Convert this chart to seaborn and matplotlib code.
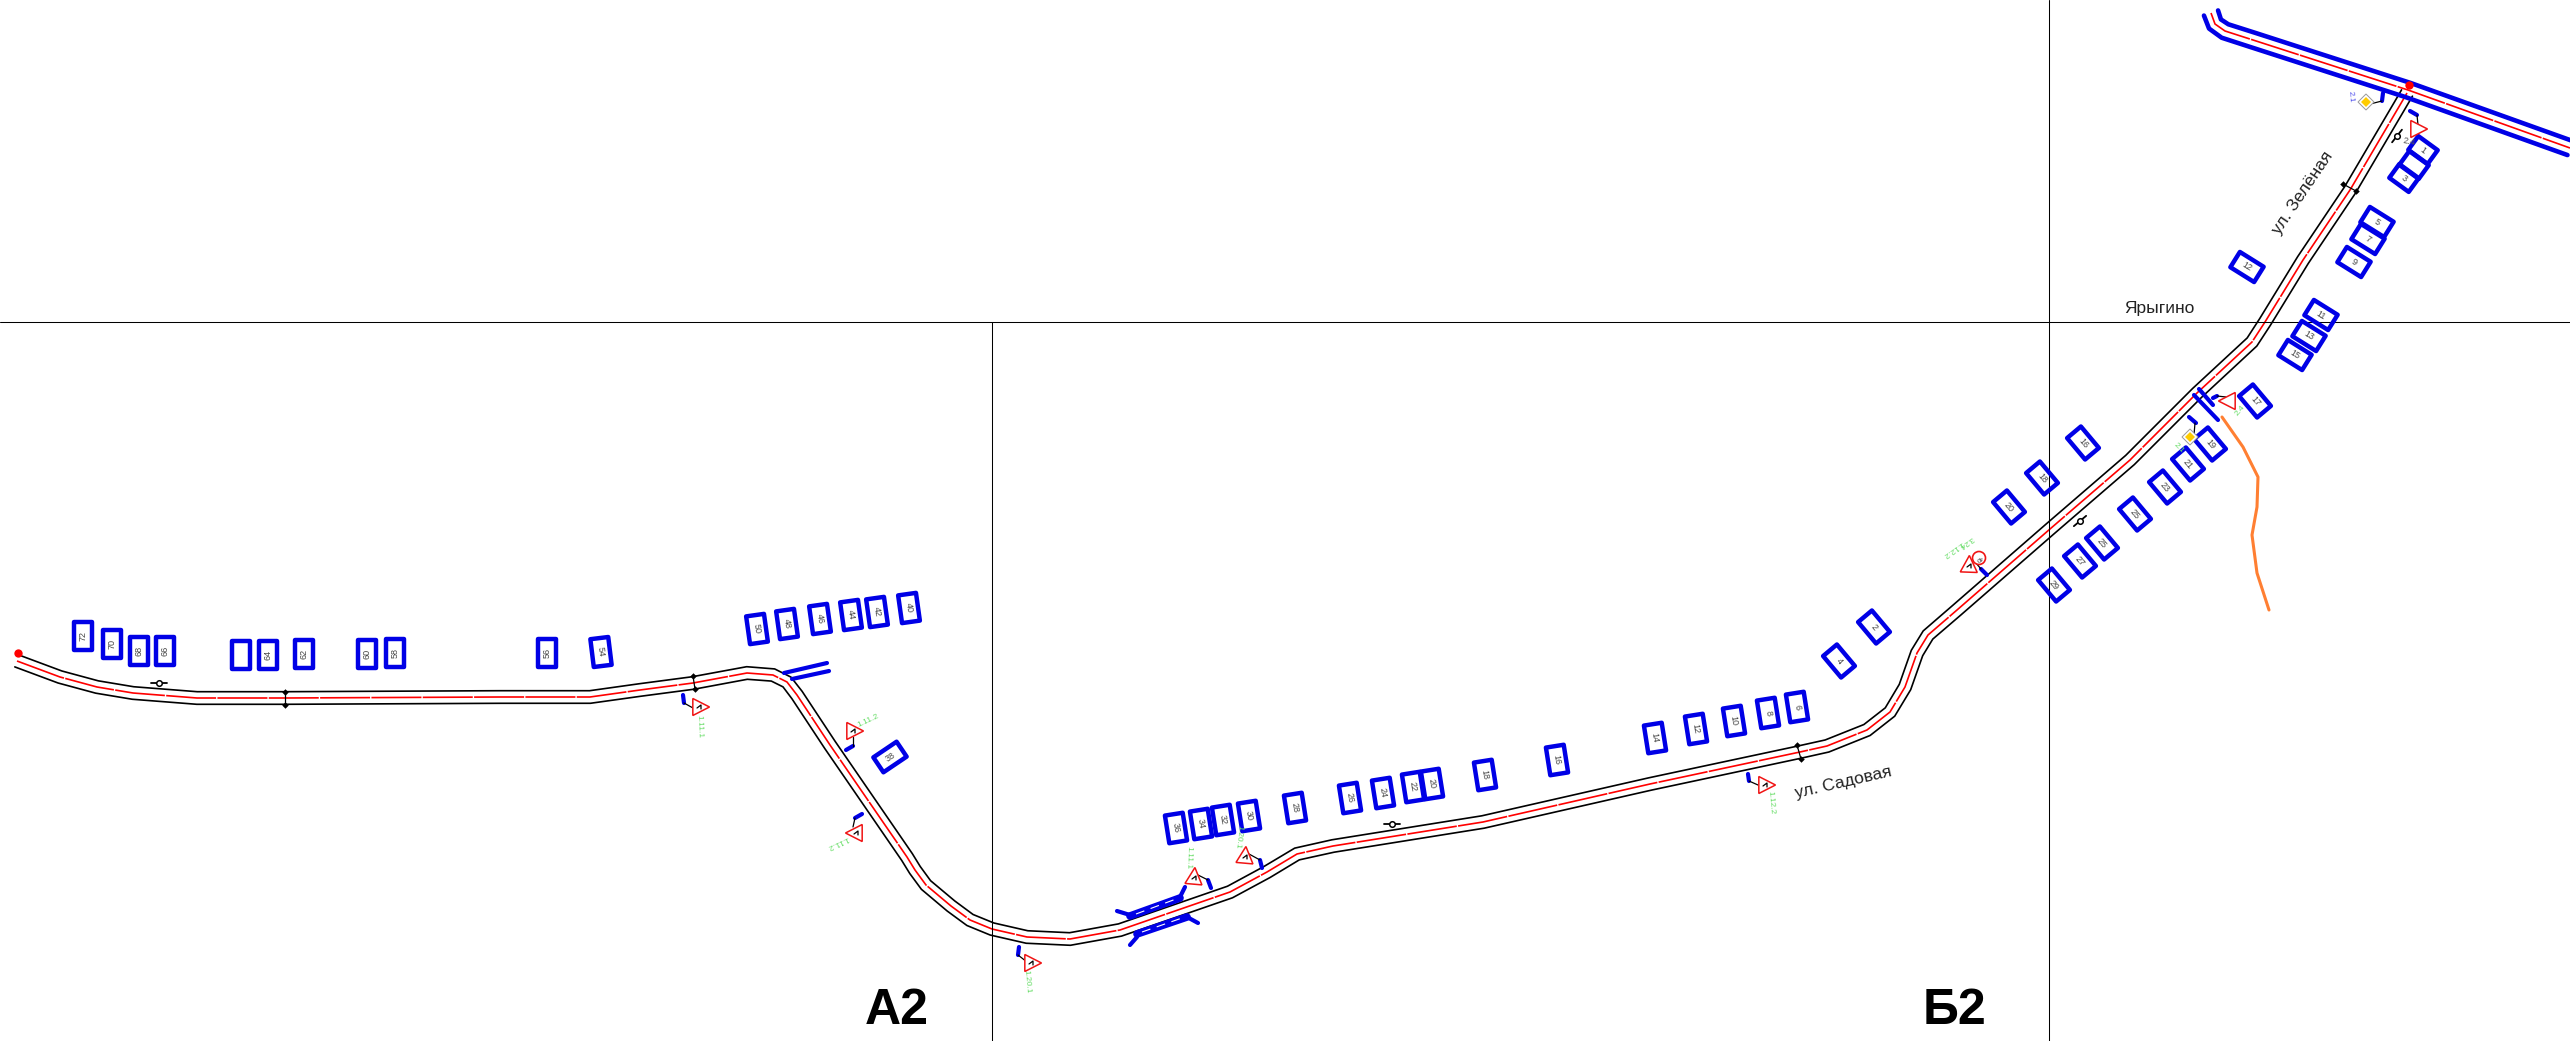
import numpy as np
import pandas as pd
import matplotlib
matplotlib.use('Agg')
import matplotlib.pyplot as plt
from matplotlib.patches import Polygon, Circle
import seaborn as sns

# road centre lines, picture pixels
road_x = [17, 60, 97, 133, 197, 285, 500, 590, 640, 693, 747, 773, 787, 797, 830, 907, 915, 926, 951, 970, 992,
          1027, 1070, 1120, 1230, 1267, 1297, 1333, 1483, 1650, 1800, 1827, 1867, 1890, 1905, 1917, 1928,
          1957, 2050, 2130, 2197, 2252, 2265, 2303, 2350, 2400, 2407]
road_y = [661, 677, 687, 693, 698, 698, 697, 697, 690, 683, 673, 675, 682, 695, 745, 857, 870, 885, 906, 920, 929,
          937, 939, 930, 892, 872, 854, 846, 822, 784, 752, 746, 730, 712, 687, 653, 635,
          610, 529, 460, 393, 342, 322, 260, 190, 105, 93]
main_x = [2211, 2215, 2225, 2253, 2408, 2570]
main_y = [13, 24, 31, 40, 90, 148]
stream_x = [2222, 2243, 2258, 2257, 2252, 2257, 2269]
stream_y = [417, 447, 477, 507, 535, 573, 610]

# houses: centre, tilt of the long side from vertical, number
row1_x = [83, 112, 139, 165, 241, 268, 304, 367, 395, 547, 601]
row1_y = [636, 644, 651, 651, 655, 655, 654, 654, 653, 653, 652]
row1_tilt = [0, 0, 0, 0, 0, 0, 0, 0, 0, 0, -7]
row1_text = ['72', '70', '68', '66', '', '64', '62', '60', '58', '56', '54']
row2_x = [757, 787, 820, 851, 877, 909, 890]
row2_y = [629, 624, 619, 615, 612, 608, 757]
row2_tilt = [-8, -8, -8, -8, -8, -8, 56]
row2_text = ['50', '48', '46', '44', '42', '40', '38']
row3_x = [1176, 1201, 1223, 1249, 1295, 1350, 1383, 1413, 1432, 1485, 1557, 1655, 1696, 1734, 1768, 1797]
row3_y = [828, 824, 820, 816, 808, 798, 793, 787, 784, 775, 760, 738, 729, 721, 713, 707]
row3_tilt = [-9] * 16
row3_text = ['36', '34', '32', '30', '28', '26', '24', '22', '20', '18', '16', '14', '12', '10', '8', '6']
row4_x = [1839, 1874, 2009, 2042, 2083, 2054, 2080, 2102, 2135, 2165, 2188, 2210, 2255]
row4_y = [661, 627, 507, 478, 443, 585, 561, 543, 514, 487, 464, 444, 401]
row4_tilt = [-40] * 13
row4_text = ['4', '2', '20', '18', '16', '29', '27', '25', '25', '23', '21', '19', '17']
row5_x = [2295, 2309, 2321, 2247, 2354, 2368, 2377]
row5_y = [355, 336, 315, 267, 262, 239, 222]
row5_tilt = [-58] * 7
row5_text = ['15', '13', '11', '12', '9', '7', '5']
row6_x = [2423, 2414, 2404]
row6_y = [150, 165, 178]
row6_tilt = [-54] * 3
row6_text = ['1', '', '3']

# road signs
tri_x = [699, 853, 856, 1031, 1194, 1245, 1765, 1969, 2229, 2417]
tri_y = [707, 731, 833, 963, 878, 857, 785, 566, 401, 129]
tri_dir = [0, 0, 180, 0, 85, 85, 0, 88, 180, 0]
tri_glyph = [True, True, True, True, True, True, True, True, False, False]
stub_x0 = [683, 846, 855, 1019, 1208, 1260, 1748, 1981, 2213, 2410, 2189, 2383]
stub_y0 = [695, 750, 818, 947, 880, 860, 774, 569, 398, 111, 417, 93]
stub_x1 = [684, 853, 862, 1018, 1211, 1262, 1749, 1987, 2217, 2417, 2196, 2382]
stub_y1 = [703, 746, 814, 955, 888, 868, 781, 575, 396, 115, 423, 101]
post_x0 = [684, 853, 855, 1018, 1208, 1260, 1749, 1981, 2217, 2417, 2195, 2382]
post_y0 = [703, 746, 818, 955, 880, 860, 781, 569, 396, 115, 423, 101]
post_x1 = [693, 853, 853, 1027, 1198, 1249, 1758, 1976, 2226, 2418, 2194, 2370]
post_y1 = [708, 737, 827, 962, 875, 854, 785, 563, 397, 125, 435, 104]
sign_text = ['1.11.1', '1.11.2', '1.11.2', '1.20.1', '1.11.1', '1.20.1', '1.12.2', '1.12.2', '3.24', '2.4', '2.1']
sign_text_x = [699, 868, 838, 1027, 1188, 1238, 1771, 1953, 1966, 2240, 2179]
sign_text_y = [727, 721, 842, 982, 858, 837, 803, 549, 542, 411, 448]
sign_text_rot = [-88, 25, 205, -85, -92, -97, -85, 215, 215, 50, -45]
diamond_x = [2190, 2366]
diamond_y = [437, 102]

# small marks on the road
gauge_x = [159, 1392, 2080, 2397]
gauge_y = [683, 824, 521, 136]
gauge_rot = [0, 0, 40, 52]
tick_x0 = [285, 693, 1797, 2343]
tick_y0 = [692, 676, 745, 184]
tick_x1 = [285, 695, 1801, 2356]
tick_y1 = [705, 689, 759, 191]

# frame lines of the sheet
grid_h_y = 322
grid_v_x = [992, 2049]
grid_v_top = [322, 0]

BLUE = '#0000e6'
RED = '#f01414'
GREEN = '#66dd66'

sns.set_theme(style='white')
plt.rcParams['font.family'] = ['Liberation Sans', 'DejaVu Sans']

fig = plt.figure(figsize=(25.7, 10.41), dpi=100)
ax = fig.add_axes([0, 0, 1, 1])
ax.set_xlim(0, 2570)
ax.set_ylim(1041, 0)
ax.axis('off')


def draw_line(xs, ys, color='black', lw=1.0, **kw):
    df = pd.DataFrame({'x': xs, 'y': ys})
    sns.lineplot(data=df, x='x', y='y', sort=False, estimator=None, errorbar=None,
                 color=color, linewidth=lw, ax=ax, legend=False, **kw)
    ax.set_xlabel('')
    ax.set_ylabel('')


def offset(xs, ys, d):
    # shift a polyline sideways to get the road edges
    pts = np.column_stack([xs, ys]).astype(float)
    seg = np.diff(pts, axis=0)
    seg /= np.linalg.norm(seg, axis=1, keepdims=True)
    tan = np.vstack([seg[0], seg[:-1] + seg[1:], seg[-1]])
    tan /= np.linalg.norm(tan, axis=1, keepdims=True)
    norm = np.column_stack([tan[:, 1], -tan[:, 0]])
    res = pts + norm * d
    return res[:, 0], res[:, 1]


def draw_house(cx, cy, tilt, text, length=28, width=18):
    a = np.radians(tilt)
    along = np.array([np.sin(a), -np.cos(a)]) * length / 2
    across = np.array([np.cos(a), np.sin(a)]) * width / 2
    c = np.array([cx, cy])
    ax.add_patch(Polygon([c + along - across, c + along + across, c - along + across, c - along - across],
                         closed=True, fill=False, edgecolor=BLUE, linewidth=3.2, joinstyle='round', zorder=3))
    if text:
        # number runs along the long side
        rot = 90 - tilt if tilt >= -5 and cx < 1000 else -90 - tilt
        ax.text(cx, cy, text, fontsize=6.5, color='#444444', rotation=rot, ha='center', va='center',
                rotation_mode='anchor', zorder=4)


def draw_triangle(cx, cy, direction, glyph):
    a = np.radians(direction)
    pts = [(cx + 10.5 * np.cos(a + t), cy - 10.5 * np.sin(a + t)) for t in (0, 2.2, -2.2)]
    ax.add_patch(Polygon(pts, closed=True, facecolor='white', edgecolor=RED, linewidth=1.1, zorder=5))
    if glyph:
        draw_line([cx - 2, cx + 2, cx + 2], [cy + 1, cy - 2, cy + 2], lw=0.9, zorder=6)


for d in (-6.3, 6.3):
    ex, ey = offset(road_x, road_y, d)
    draw_line(ex, ey, color='black', lw=1.2)
draw_line(road_x, road_y, color='#ff0000', lw=1.2, linestyle=(0, (30, 0.8)))

for d in (-7.5, 7.5):
    ex, ey = offset(main_x, main_y, d)
    draw_line(ex, ey, color=BLUE, lw=3.3)
draw_line(main_x, main_y, color='#ff0000', lw=1.2, linestyle=(0, (30, 0.8)))

draw_line(stream_x, stream_y, color='#ff7f32', lw=2.2)

ax.axhline(grid_h_y, color='black', lw=0.75, zorder=2)
for gx, gt in zip(grid_v_x, grid_v_top):
    draw_line([gx, gx], [gt, 1041], color='black', lw=0.75, zorder=2)

# ends of the road
sns.scatterplot(x=[18, 2409], y=[653, 85], color='#ff0000', s=36, linewidth=0, ax=ax, zorder=6, legend=False)
ax.set_xlabel('')
ax.set_ylabel('')

# bridges
draw_line([784, 827], [673, 663], color=BLUE, lw=3)
draw_line([792, 829], [679, 671], color=BLUE, lw=3)
draw_line([2194, 2218], [395, 420], color=BLUE, lw=3)
draw_line([2199, 2213], [389, 405], color=BLUE, lw=3)
draw_line([1130, 1180], [916, 898], color=BLUE, lw=5.5)
draw_line([1137, 1187], [934, 917], color=BLUE, lw=5.5)
draw_line([1117, 1130], [911, 915], color=BLUE, lw=3)
draw_line([1180, 1185], [897, 887], color=BLUE, lw=3)
draw_line([1130, 1137], [945, 937], color=BLUE, lw=3)
draw_line([1187, 1198], [917, 923], color=BLUE, lw=3)
draw_line([1136, 1176], [914, 899], color='white', lw=0.8, linestyle=(0, (8, 6)))
draw_line([1142, 1182], [932, 918], color='white', lw=0.8, linestyle=(0, (8, 6)))

rows = [(row1_x, row1_y, row1_tilt, row1_text), (row2_x, row2_y, row2_tilt, row2_text),
        (row3_x, row3_y, row3_tilt, row3_text), (row4_x, row4_y, row4_tilt, row4_text),
        (row5_x, row5_y, row5_tilt, row5_text)]
for xs, ys, tilts, labels in rows:
    for x, y, t, s in zip(xs, ys, tilts, labels):
        draw_house(x, y, t, s)
for x, y, t, s in zip(row6_x, row6_y, row6_tilt, row6_text):
    draw_house(x, y, t, s, length=24, width=17)

# signs
for x0, y0, x1, y1 in zip(stub_x0, stub_y0, stub_x1, stub_y1):
    draw_line([x0, x1], [y0, y1], color=BLUE, lw=3, solid_capstyle='round')
for x0, y0, x1, y1 in zip(post_x0, post_y0, post_x1, post_y1):
    draw_line([x0, x1], [y0, y1], color='black', lw=0.9)
for x, y, d, g in zip(tri_x, tri_y, tri_dir, tri_glyph):
    draw_triangle(x, y, d, g)
for x, y, s, r in zip(sign_text_x, sign_text_y, sign_text, sign_text_rot):
    ax.text(x, y, s, fontsize=6, color=GREEN, rotation=r, ha='center', va='center', rotation_mode='anchor')
ax.text(2409, 142, '2.4', fontsize=6.5, color='#555555', rotation=-10, ha='center', va='center')
ax.text(2351, 97, '2.1', fontsize=6, color='#5555ee', rotation=-85, ha='center', va='center')

# speed limit circle
ax.add_patch(Circle((1979, 558), 6.5, fill=True, facecolor='white', edgecolor=RED, linewidth=1.2, zorder=7))
ax.text(1979, 558, '40', fontsize=4.5, color='#333333', rotation=215, ha='center', va='center', zorder=8,
        rotation_mode='anchor')

# priority road diamonds
for x, y in zip(diamond_x, diamond_y):
    ax.add_patch(Polygon([(x, y - 8), (x + 8, y), (x, y + 8), (x - 8, y)], closed=True,
                         facecolor='white', edgecolor='#999999', linewidth=0.7, zorder=5))
    ax.add_patch(Polygon([(x, y - 5), (x + 5, y), (x, y + 5), (x - 5, y)], closed=True,
                         facecolor='#ffcc00', edgecolor='none', zorder=6))

for x0, y0, x1, y1 in zip(tick_x0, tick_y0, tick_x1, tick_y1):
    draw_line([x0, x1], [y0, y1], color='black', lw=0.9)
    sns.scatterplot(x=[x0, x1], y=[y0, y1], color='black', s=11, linewidth=0, marker='D', ax=ax, legend=False, zorder=5)
    ax.set_xlabel('')
    ax.set_ylabel('')

for x, y, r in zip(gauge_x, gauge_y, gauge_rot):
    a = np.radians(r)
    dx, dy = 8 * np.cos(a), -8 * np.sin(a)
    draw_line([x - dx, x + dx], [y - dy, y + dy], color='black', lw=1.3)
    ax.plot(x, y, marker='o', ms=4, mfc='white', mec='black', mew=1.1, zorder=5)

ax.text(1843, 783, 'ул. Садовая', fontsize=12.5, color='#222222', rotation=13, ha='center', va='center', rotation_mode='anchor')
ax.text(2303, 193, 'ул. Зелёная', fontsize=12.5, color='#222222', rotation=56, ha='center', va='center', rotation_mode='anchor')
ax.text(2159, 309, 'Ярыгино', fontsize=12.5, color='#222222', ha='center', va='center')
ax.text(897, 1011, 'А2', fontsize=36, fontweight='bold', color='black', ha='center', va='center')
ax.text(1955, 1011, 'Б2', fontsize=36, fontweight='bold', color='black', ha='center', va='center')

ax.set_xlim(0, 2570)
ax.set_ylim(1041, 0)
fig.savefig('out.png', dpi=100)
